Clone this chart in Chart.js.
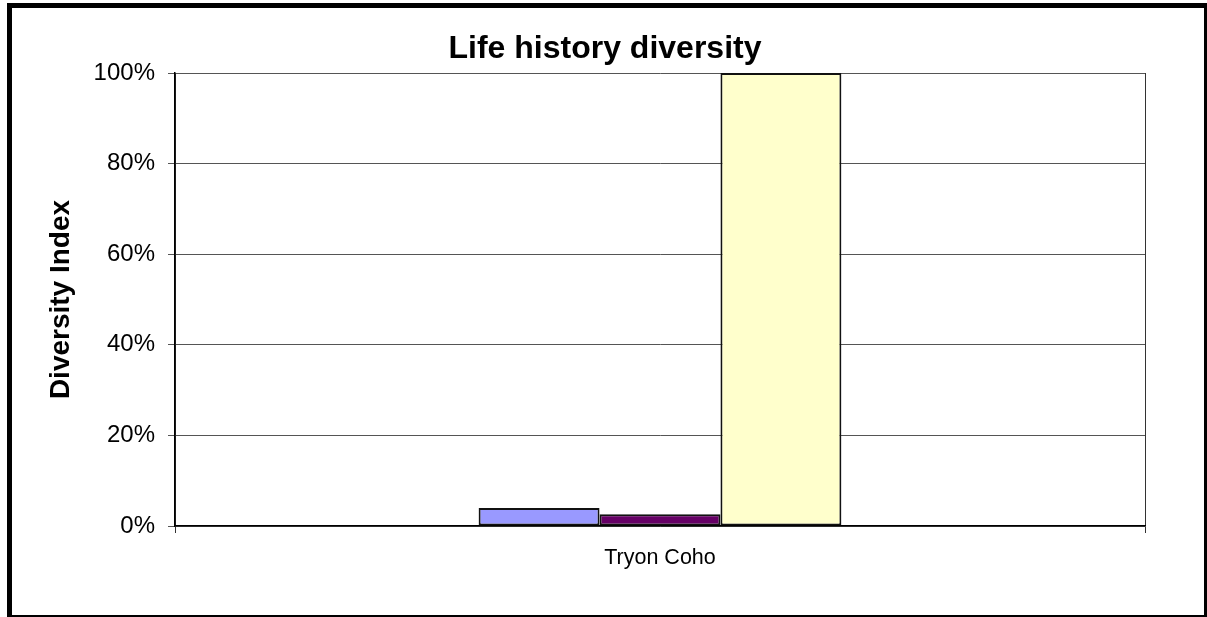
<!DOCTYPE html>
<html>
<head>
<meta charset="utf-8">
<script src="https://cdn.jsdelivr.net/npm/chart.js@4"></script>
<style>
  html, body { margin:0; padding:0; background:#fff; overflow:hidden; }
  #marco { position:absolute; left:7px; top:3px; width:1192px; height:607px; border:5px solid #000; }
  #lienzo { position:absolute; left:0; top:0; }
</style>
</head>
<body>
<div id="marco"></div>
<canvas id="lienzo" width="1207" height="617"></canvas>
<script>
// Datos
const categorias = ["Tryon Coho"];
const serie1 = [4.0];
const serie2 = [2.6];
const serie3 = [100];
const nombresSeries = ["Serie 1", "Serie 2", "Serie 3"];
const coloresSeries = ["#9999FF", "#660066", "#FFFFCC"];
const ticksY = [0, 20, 40, 60, 80, 100];

Chart.defaults.font.family = "'Liberation Sans', Arial, sans-serif";
Chart.defaults.color = "#000";

const valores = [serie1, serie2, serie3];

new Chart(document.getElementById("lienzo").getContext("2d"), {
    type: "bar",
    data: {
        labels: categorias,
        datasets: valores.map((v, i) => ({
            label: nombresSeries[i],
            data: v,
            backgroundColor: coloresSeries[i],
            borderColor: "#111",
            borderWidth: 2,
            borderSkipped: false,
            barPercentage: 1,
            categoryPercentage: 0.374
        }))
    },
    options: {
        responsive: false,
        animation: false,
        layout: { padding: { left: 44, right: 41, top: 0, bottom: 0 } },
        plugins: {
            legend: { display: false },
            tooltip: { enabled: false },
            title: {
                display: true,
                text: "Life history diversity",
                font: { size: 32, weight: "bold" },
                color: "#000",
                padding: { top: 30.3, bottom: 4.3 }
            }
        },
        scales: {
            x: {
                offset: true,
                grid: { display: true, offset: true, drawOnChartArea: true, color: "#333", lineWidth: 1, tickLength: 7, tickColor: "#333" },
                border: { display: true, color: "#000", width: 1.5 },
                ticks: { font: { size: 21.5 }, color: "#000", padding: 12 },
                afterFit: s => { s.height = 91; }
            },
            y: {
                min: 0,
                max: 100,
                afterBuildTicks: s => { s.ticks = ticksY.map(v => ({ value: v })); },
                grid: { color: "#555", lineWidth: 1, tickLength: 7, tickColor: "#555" },
                border: { display: true, color: "#000", width: 1.5 },
                ticks: { font: { size: 24 }, color: "#000", padding: 13, callback: v => v + "%" },
                title: { display: true, text: "Diversity Index", font: { size: 28, weight: "bold" }, color: "#000", padding: 0 },
                afterFit: s => { s.width = 131; }
            },
            // eje vacio a la derecha solo para reservar espacio
            yDer: {
                position: "right",
                min: 0,
                max: 100,
                grid: { display: false },
                border: { display: false },
                ticks: { display: false },
                afterFit: s => { s.width = 21; }
            }
        }
    }
});
</script>
</body>
</html>
